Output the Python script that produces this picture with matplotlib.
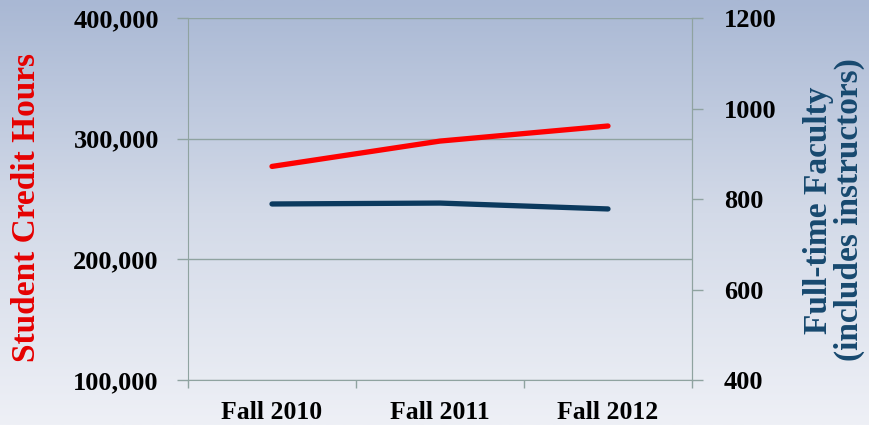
import numpy as np
import matplotlib
matplotlib.use('Agg')
import matplotlib.pyplot as plt
from matplotlib.colors import LinearSegmentedColormap

# data
terms = ['Fall 2010', 'Fall 2011', 'Fall 2012']
credit_hours = [277000, 298000, 310500]
faculty = [789, 791, 778]

red = '#ff0000'
navy = '#0b3a5e'
gridc = '#8fa3a0'

plt.rcParams['font.family'] = ['Liberation Serif', 'DejaVu Serif']
plt.rcParams['font.weight'] = 'bold'

fig = plt.figure(figsize=(8.7, 4.25), dpi=100)

# gradient background
bg = fig.add_axes([0, 0, 1, 1], zorder=-10)
cmap = LinearSegmentedColormap.from_list('bg', ['#a9b8d4', '#d3dae8', '#eef0f6'])
bg.imshow(np.linspace(0, 1, 256).reshape(-1, 1), aspect='auto', cmap=cmap,
          extent=[0, 1, 0, 1], origin='upper')
bg.axis('off')

ax = fig.add_axes([188/870, 1-380/425, 504/870, 362/425])
ax.set_facecolor('none')
x = np.arange(len(terms))
ax.plot(x, credit_hours, color=red, lw=3.8, solid_capstyle='round', zorder=3)
ax.set_ylim(100000, 400000)
ax.set_yticks([100000, 200000, 300000, 400000])
ax.set_yticklabels(['{:,}'.format(v) for v in [100000, 200000, 300000, 400000]])
ax.set_xlim(-0.5, 2.5)
ax.set_xticks([-0.5, 0.5, 1.5, 2.5])
ax.set_xticklabels([])
ax.set_xticks(x, minor=True)
ax.set_xticklabels(terms, minor=True)
ax.tick_params(axis='x', which='major', length=6, color=gridc, width=1)
ax.tick_params(axis='x', which='minor', length=0, pad=15, labelsize=18.5)
ax.tick_params(axis='y', length=8, color=gridc, width=1, pad=13, labelsize=19)
ax.grid(axis='y', color=gridc, lw=1)
ax.set_axisbelow(True)
ax.spines['top'].set_visible(False)
for s in ['left', 'right', 'bottom']:
    ax.spines[s].set_color(gridc)

ax2 = ax.twinx()
ax2.plot(x, faculty, color=navy, lw=3.8, solid_capstyle='round', zorder=3)
ax2.set_ylim(400, 1200)
ax2.set_yticks([400, 600, 800, 1000, 1200])
ax2.tick_params(axis='y', length=8, color=gridc, width=1, pad=15, labelsize=19)
ax2.spines['top'].set_visible(False)
ax2.spines['left'].set_visible(False)
ax2.spines['bottom'].set_visible(False)
ax2.spines['right'].set_color(gridc)

fig.text(27/870, 1-207/425, 'Student Credit Hours', rotation=90, ha='center',
         va='center', color='#e60000', fontsize=24, fontweight='bold')
fig.text(834/870, 1-210/425, 'Full-time Faculty\n(includes instructors)',
         rotation=90, ha='center', va='center', multialignment='center',
         color='#17496f', fontsize=24, fontweight='bold', linespacing=1.0)

plt.savefig('out.png', dpi=100)
